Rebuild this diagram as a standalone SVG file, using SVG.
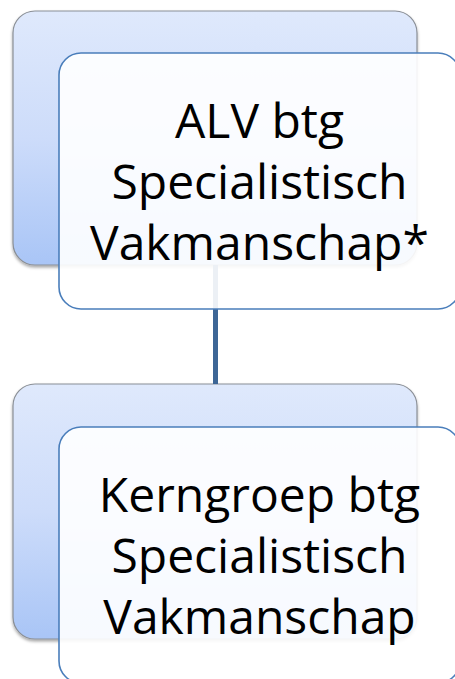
<svg xmlns="http://www.w3.org/2000/svg" width="455" height="679" viewBox="0 0 455 679">
<defs>
<linearGradient id="bg" x1="0" y1="0" x2="0" y2="1">
<stop offset="0" stop-color="#dfe9fc"/>
<stop offset="0.5" stop-color="#cddcfa"/>
<stop offset="1" stop-color="#a9c5f6"/>
</linearGradient>
<filter id="sh" x="-10%" y="-10%" width="120%" height="120%">
<feDropShadow dx="0" dy="2" stdDeviation="1.5" flood-color="#000" flood-opacity="0.35"/>
</filter>
</defs>
<style>
.back{fill:url(#bg);stroke:#8a8f96;stroke-width:1.2;filter:url(#sh)}
.front{fill:#ffffff;fill-opacity:0.9;stroke:#4a7ebb;stroke-width:1.6}
.lbl{font-family:"Open Sans","Noto Sans",sans-serif;font-size:48px;fill:#000;text-anchor:middle}
.conn{stroke:#3d6696;stroke-width:5;fill:none}
</style>
<g id="node1-back"><rect class="back" x="13" y="11" width="404" height="254" rx="22"/></g>
<g id="node2-back"><rect class="back" x="13" y="384" width="404" height="255" rx="22"/></g>
<g id="connectors"><line class="conn" x1="215.5" y1="265" x2="215.5" y2="384"/></g>
<g id="node1">
<rect class="front" x="59" y="53" width="401" height="256" rx="22"/>
<text class="lbl"><tspan x="259.5" y="138">ALV btg</tspan><tspan x="259.5" y="199">Specialistisch</tspan><tspan x="259.5" y="260">Vakmanschap*</tspan></text>
</g>
<g id="node2">
<rect class="front" x="59" y="427" width="401" height="256" rx="22"/>
<text class="lbl"><tspan x="259.5" y="512">Kerngroep btg</tspan><tspan x="259.5" y="573">Specialistisch</tspan><tspan x="259.5" y="634">Vakmanschap</tspan></text>
</g>
</svg>
